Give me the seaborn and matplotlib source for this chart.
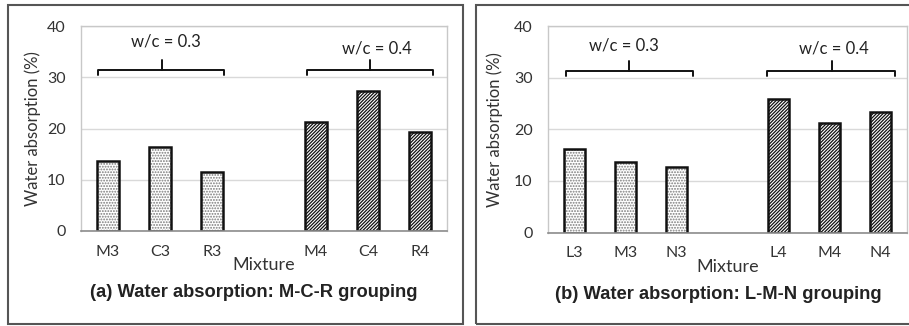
import matplotlib
matplotlib.use("Agg")
import matplotlib.pyplot as plt
from matplotlib.patches import Rectangle
import seaborn as sns
import pandas as pd

# ---- data ----
mix_a = ["M3", "C3", "R3", "M4", "C4", "R4"]
val_a = [13.7, 16.3, 11.6, 21.2, 27.3, 19.3]
mix_b = ["L3", "M3", "N3", "L4", "M4", "N4"]
val_b = [16.1, 13.7, 12.6, 25.8, 21.2, 23.4]
groups = ["w/c = 0.3", "w/c = 0.3", "w/c = 0.3", "w/c = 0.4", "w/c = 0.4", "w/c = 0.4"]
titles = ["(a) Water absorption: M-C-R grouping", "(b) Water absorption: L-M-N grouping"]
y_ticks = [0, 10, 20, 30, 40]
x_label = "Mixture"
y_label = "Water absorption (%)"

sns.set_theme(style="white")
plt.rcParams["font.family"] = ["Lato", "DejaVu Sans"]
plt.rcParams["hatch.linewidth"] = 0.9

W, H = 909, 326
fig = plt.figure(figsize=(W / 100, H / 100), dpi=100)

def fx(px):
    return px / W

def fy(py):
    return 1 - py / H

# panel boxes
for (x0, x1) in [(8, 463), (476, 912)]:
    fig.add_artist(Rectangle((fx(x0), fy(324)), fx(x1 - x0), (324 - 5) / H,
                             transform=fig.transFigure, fill=False,
                             ec="#555555", lw=1.5))

panels = [
    dict(mix=mix_a, val=val_a, title=titles[0],
         box=(81, 26, 447, 231), ylab_x=-0.131, title_x=0.473,
         brackets=[(-0.19, 2.23, 1.04, 31.4, 1.12, 36.9),
                   (3.83, 6.25, 5.04, 31.4, 5.17, 35.7)]),
    dict(mix=mix_b, val=val_b, title=titles[1],
         box=(548, 26, 907, 232.5), ylab_x=-0.148, title_x=0.475,
         brackets=[(-0.16, 2.32, 1.07, 31.3, 0.96, 36.3),
                   (3.78, 6.28, 5.05, 31.3, 5.09, 35.7)]),
]

text_col = "#333333"

for p in panels:
    l, t, r, b = p["box"]
    ax = fig.add_axes([fx(l), fy(b), fx(r - l), (b - t) / H])
    order = p["mix"][:3] + [" "] + p["mix"][3:]
    df = pd.DataFrame({"Mixture": p["mix"], "value": p["val"], "group": groups})

    # hatch layer
    n0 = len(ax.patches)
    sns.barplot(data=df, x="Mixture", y="value", order=order, color="white",
                saturation=1, width=0.42, linewidth=0, ax=ax, errorbar=None)
    for patch in ax.patches[n0:]:
        cx = patch.get_x() + patch.get_width() / 2
        if round(cx) < 3:
            patch.set_hatch("......")
            patch.set_edgecolor("#7a7a7a")
        else:
            patch.set_hatch("//////////")
            patch.set_edgecolor("#111111")
        patch.set_linewidth(0)
    # outline layer
    n1 = len(ax.patches)
    sns.barplot(data=df, x="Mixture", y="value", order=order, color="white",
                saturation=1, width=0.42, linewidth=1.8, edgecolor="#111111",
                ax=ax, errorbar=None)
    for patch in ax.patches[n1:]:
        patch.set_facecolor("none")
        patch.set_edgecolor("#111111")
        patch.set_linewidth(1.8)

    ax.set_ylim(0, 40)
    ax.set_xlim(-0.52, 6.52)
    ax.set_yticks(y_ticks)
    ax.yaxis.grid(True, color="#d9d9d9", lw=1)
    ax.set_axisbelow(True)
    for s in ["top", "right", "left"]:
        ax.spines[s].set_color("#c8c8c8")
        ax.spines[s].set_linewidth(1.0)
    ax.spines["bottom"].set_color("#8c8c8c")
    ax.spines["bottom"].set_linewidth(1.2)
    ax.tick_params(axis="both", length=0, labelsize=11.5, labelcolor=text_col)
    ax.tick_params(axis="y", pad=11)
    ax.tick_params(axis="x", pad=10)

    ax.set_xlabel(x_label, fontsize=13, color=text_col)
    ax.xaxis.label.set_va("center")
    ax.xaxis.set_label_coords(0.5, -0.166)
    ax.set_ylabel(y_label, fontsize=12, color=text_col)
    ax.yaxis.label.set_va("center")
    ax.yaxis.set_label_coords(p["ylab_x"], 0.5)

    ax.text(p["title_x"], -0.30, p["title"], transform=ax.transAxes,
            ha="center", va="center", fontsize=13.2, fontweight="bold",
            family=["Liberation Sans", "DejaVu Sans"], color="#222222")

    for (xa, xb, xm, yb, tx, ty), g in zip(p["brackets"], ["w/c = 0.3", "w/c = 0.4"]):
        ax.plot([xa, xa, xb, xb], [yb - 1.0, yb, yb, yb - 1.0], color="#111111",
                lw=1.4, solid_joinstyle="round", clip_on=False)
        ax.plot([xm, xm], [yb, yb + 2.0], color="#111111", lw=1.4)
        ax.text(tx, ty, g, ha="center", va="center", fontsize=12, color="#222222")

fig.savefig("out.png", dpi=100)
